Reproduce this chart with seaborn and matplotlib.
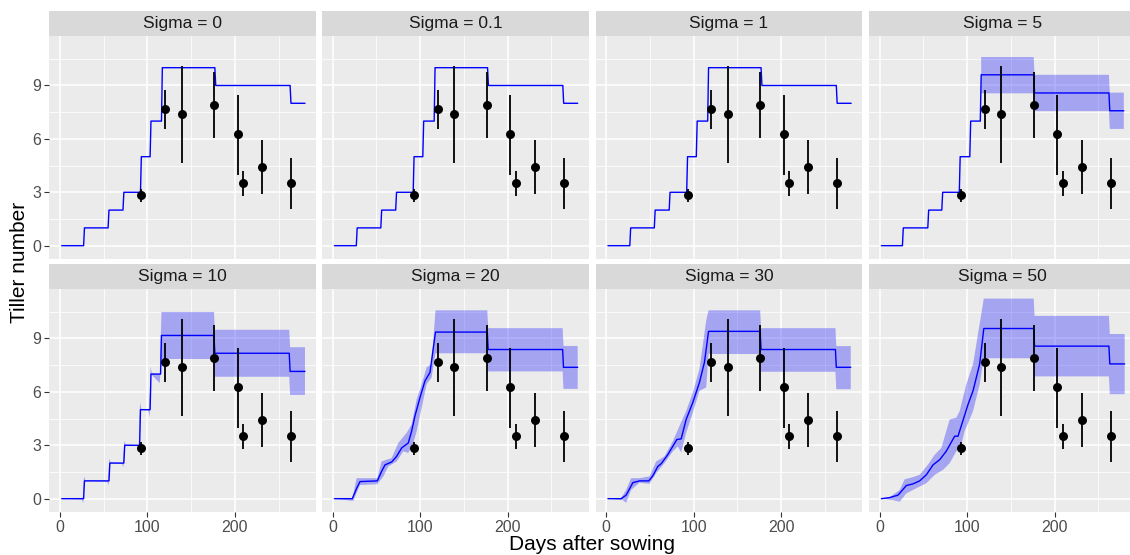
import numpy as np
import pandas as pd
import matplotlib
matplotlib.use("Agg")
import matplotlib.pyplot as plt
import seaborn as sns

# ── Data ───────────────────────────────────────────────────────────────────────
SIGMAS = ["0", "0.1", "1", "5", "10", "20", "30", "50"]

# observed tiller numbers (mean and error-bar range)
OBS_DAY  = [93, 120, 139, 176, 203, 209, 231, 264]
OBS_MEAN = [2.85, 7.67, 7.37, 7.90, 6.25, 3.50, 4.42, 3.50]
OBS_LO   = [2.48, 6.54, 4.65, 6.07, 3.99, 2.80, 2.89, 2.06]
OBS_HI   = [3.18, 8.77, 10.09, 9.75, 8.47, 4.20, 5.92, 4.93]

# step-shaped rise for the small sigmas: day of each step and level reached
STEP_LEVELS = [0, 1, 2, 3, 5, 7]
STEP_DAYS = {
    "0":   [27, 55, 72, 92, 103, 116],
    "0.1": [27, 55, 72, 92, 103, 116],
    "1":   [27, 55, 72, 92, 103, 116],
    "5":   [26, 55, 71, 91, 103, 115],
    "10":  [27, 56, 73, 91, 103, 115],
}
START_DAY = 2

# smoothed rise for the large sigmas: mean line
RISE_DAYS = {
    "20": [2, 22.4, 27.4, 31.2, 51, 55.9, 59.8, 67.4, 73.1, 78.8, 86.4, 90.2, 94, 99.8, 105.5, 111.2],
    "30": [2, 17.1, 22.8, 30.5, 38.1, 48.7, 53.3, 59, 62.8, 70.4, 80.7, 85.7, 91.4, 99, 106.6, 112.3],
    "50": [2, 11.4, 21, 30.5, 38, 45.7, 53.3, 61, 68.6, 76, 85.7, 89.5, 95, 101, 106.7, 114.3],
}
RISE_MEAN = {
    "20": [0, 0, 0.58, 0.96, 1.0, 1.53, 1.90, 2.06, 2.38, 2.85, 3.13, 3.79, 4.64, 5.68, 6.62, 7.09],
    "30": [0, 0, 0.20, 0.90, 1.0, 1.0, 1.28, 1.81, 1.96, 2.47, 3.32, 3.36, 4.45, 5.40, 6.53, 7.66],
    "50": [0, 0.06, 0.20, 0.74, 0.83, 1.0, 1.34, 1.90, 2.19, 2.66, 3.51, 3.51, 4.36, 5.30, 6.06, 7.57],
}
# ribbon edges during the rise
UPPER_DAYS = {
    "10": [2, 26, 27.5, 29, 55, 56.5, 58, 72, 73.5, 75, 90, 91.5, 93, 102, 103.5, 105, 114],
    "20": [2, 22.4, 27.4, 35, 51, 55.9, 61.7, 67.4, 75, 84.6, 90.2, 96, 101.7, 107.4, 113.1],
    "30": [2, 17.1, 22.8, 28.5, 38.1, 49.5, 57.1, 66.7, 76.2, 83.8, 91.4, 99, 106.6, 114.3],
    "50": [2, 11.4, 22.9, 28.6, 38.1, 45.7, 55.2, 62.9, 70.5, 80, 87.6, 91.4, 99, 106.7, 112.4],
}
UPPER_VALS = {
    "10": [0, 0, 1.25, 1.05, 1, 2.25, 2.05, 2, 3.25, 3.05, 3, 5.4, 5.05, 5, 7.4, 7.05, 7.0],
    "20": [0, 0, 1.15, 1.15, 1.15, 2.09, 2.19, 2.28, 3.13, 3.70, 4.17, 5.58, 6.43, 7.38, 7.57],
    "30": [0, 0.04, 0.49, 1.15, 1.15, 1.25, 2.09, 2.38, 3.23, 4.08, 4.92, 5.96, 7.28, 10.0],
    "50": [0, 0.09, 0.49, 1.09, 1.21, 1.34, 1.91, 2.47, 2.85, 4.45, 4.55, 4.92, 6.43, 7.55, 9.26],
}
LOWER_DAYS = {
    "10": [2, 25, 26.5, 28, 54, 55.5, 57, 71, 72.5, 74, 89, 90.5, 92, 101, 102.5, 104, 114],
    "20": [2, 23.6, 31.2, 51, 57.9, 63.6, 73.1, 80.7, 86.4, 92.1, 96, 101.7, 107.4, 113.1],
    "30": [2, 19, 22.8, 28.5, 38.1, 49.5, 57.1, 66.7, 76.2, 81.9, 85.7, 91.4, 99, 106.6, 114.3],
    "50": [2, 15.2, 22.9, 30.5, 45.7, 53.3, 62.9, 72.4, 80, 87.6, 93.3, 97.1, 106.7, 114.3],
}
LOWER_VALS = {
    "10": [0, -0.05, -0.25, 1, 0.95, 0.75, 2, 1.95, 1.75, 3, 2.95, 2.6, 5, 4.95, 4.6, 7, 6.5],
    "20": [0, -0.13, 0.77, 0.81, 1.25, 1.81, 2.09, 2.66, 2.57, 3.13, 3.79, 5.11, 6.43, 6.81],
    "30": [0, -0.08, -0.23, 0.49, 0.90, 0.83, 1.43, 2.00, 2.66, 2.94, 2.60, 3.70, 4.83, 6.06, 6.25],
    "50": [0, -0.08, -0.17, 0.30, 0.68, 0.87, 1.34, 1.62, 2.00, 2.66, 3.04, 3.79, 4.92, 6.43],
}

# plateau after flowering: start, two breaks, end day; three segments each
PLAT_DAYS = {
    "0":   [117, 177, 263, 280],
    "0.1": [117, 177, 263, 280],
    "1":   [117, 177, 263, 280],
    "5":   [116, 176, 262, 279],
    "10":  [116, 176, 262, 280],
    "20":  [117.5, 176.7, 262.8, 280],
    "30":  [117, 176, 262, 279.5],
    "50":  [119, 176, 262, 280],
}
PLAT_MEAN = {
    "0": [10, 9, 8], "0.1": [10, 9, 8], "1": [10, 9, 8],
    "5": [9.60, 8.58, 7.58], "10": [9.17, 8.17, 7.15], "20": [9.36, 8.38, 7.38],
    "30": [9.40, 8.38, 7.38], "50": [9.56, 8.57, 7.57],
}
PLAT_LO = {
    "5": [8.56, 7.56, 6.56], "10": [7.85, 6.85, 5.83], "20": [8.17, 7.15, 6.17],
    "30": [8.13, 7.13, 6.15], "50": [7.89, 6.87, 5.87],
}
PLAT_HI = {
    "5": [10.60, 9.60, 8.60], "10": [10.49, 9.49, 8.51], "20": [10.58, 9.58, 8.58],
    "30": [10.58, 9.58, 8.57], "50": [11.24, 10.27, 9.25],
}


def plateau_pts(days, vals):
    s, b1, b2, e = days
    xs = [s, b1, b1 + 1, b2, b2 + 1, e]
    ys = [vals[0], vals[0], vals[1], vals[1], vals[2], vals[2]]
    return xs, ys


def mean_line(sig):
    if sig in STEP_DAYS:
        xs, ys = [START_DAY], [0]
        for d, lev_prev, lev in zip(STEP_DAYS[sig][:-1], STEP_LEVELS[:-1], STEP_LEVELS[1:]):
            xs += [d, d + 1]
            ys += [lev_prev, lev]
        xs.append(STEP_DAYS[sig][-1])
        ys.append(STEP_LEVELS[-1])
    else:
        xs, ys = list(RISE_DAYS[sig]), list(RISE_MEAN[sig])
    px, py = plateau_pts(PLAT_DAYS[sig], PLAT_MEAN[sig])
    return pd.DataFrame({"day": xs + px, "tillers": ys + py})


def ribbon(sig):
    if sig not in PLAT_HI:
        return None
    ux, uy = plateau_pts(PLAT_DAYS[sig], PLAT_HI[sig])
    lx, ly = plateau_pts(PLAT_DAYS[sig], PLAT_LO[sig])
    if sig in UPPER_DAYS:
        ux = list(UPPER_DAYS[sig]) + ux
        uy = list(UPPER_VALS[sig]) + uy
        lx = list(LOWER_DAYS[sig]) + lx
        ly = list(LOWER_VALS[sig]) + ly
    return np.array(ux + lx[::-1]), np.array(uy + ly[::-1])


# ── Style ──────────────────────────────────────────────────────────────────────
sns.set_theme(style="darkgrid")
plt.rcParams["font.family"] = ["Liberation Sans", "DejaVu Sans"]
PANEL_BG = "#EBEBEB"
STRIP_BG = "#D9D9D9"

W, H = 1130, 555
fig = plt.figure(figsize=(W / 100, H / 100), dpi=100)
fig.patch.set_facecolor("white")

col_left = [49.3, 322.0, 595.5, 869.0]
col_w = [266.7, 266.7, 266.7, 261.0]
row_top = [36.0, 289.0]
panel_h = 222.5
strip_h = 25.0
px_per_day = 0.875
x_lo = -12.2


def frac(left, top, width, height):
    return [left / W, 1 - (top + height) / H, width / W, height / H]


for i, sig in enumerate(SIGMAS):
    r, c = divmod(i, 4)
    ax = fig.add_axes(frac(col_left[c], row_top[r], col_w[c], panel_h))
    ax.set_facecolor(PANEL_BG)

    rib = ribbon(sig)
    if rib is not None:
        ax.fill(rib[0], rib[1], color="blue", alpha=0.3, lw=0, zorder=2)

    sns.lineplot(data=mean_line(sig), x="day", y="tillers", sort=False, estimator=None,
                 color="blue", lw=1.0, ax=ax, zorder=3)
    ax.vlines(OBS_DAY, OBS_LO, OBS_HI, color="black", lw=1.3, zorder=4)
    sns.scatterplot(x=OBS_DAY, y=OBS_MEAN, color="black", s=42, linewidth=0, ax=ax, zorder=5)

    ax.set_xlim(x_lo, x_lo + col_w[c] / px_per_day)
    ax.set_ylim(-0.72, 11.78)
    ax.set_xticks([0, 100, 200])
    ax.set_xticks([50, 150, 250], minor=True)
    ax.set_yticks([0, 3, 6, 9])
    ax.set_yticks([1.5, 4.5, 7.5, 10.5], minor=True)
    ax.grid(True, which="major", color="white", lw=1.1)
    ax.grid(True, which="minor", color="white", lw=0.55)
    ax.set_axisbelow(True)
    for sp in ax.spines.values():
        sp.set_visible(False)
    ax.set_xlabel("")
    ax.set_ylabel("")
    ax.tick_params(which="minor", length=0)
    ax.tick_params(which="major", length=3.8, width=0.8, color="#333333",
                   labelcolor="#4D4D4D", labelsize=11.5, pad=2)
    ax.tick_params(axis="x", bottom=(r == 1), labelbottom=(r == 1))
    ax.tick_params(axis="y", left=(c == 0), labelleft=(c == 0))

    sax = fig.add_axes(frac(col_left[c], row_top[r] - strip_h, col_w[c], strip_h))
    sax.set_facecolor(STRIP_BG)
    sax.set_xticks([])
    sax.set_yticks([])
    for sp in sax.spines.values():
        sp.set_visible(False)
    sax.text(133.35 / col_w[c], 0.5, f"Sigma = {sig}", transform=sax.transAxes,
             ha="center", va="center", fontsize=12.5, color="#1A1A1A")

fig.text(20 / W, 1 - 262 / H, "Tiller number", rotation=90, ha="center", va="center",
         fontsize=15, color="black")
fig.text(592 / W, 1 - 544 / H, "Days after sowing", ha="center", va="center",
         fontsize=15, color="black")

fig.savefig("out.png", dpi=100)
plt.close(fig)
